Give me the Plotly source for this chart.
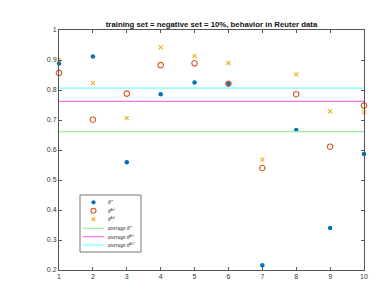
import plotly.graph_objects as go

x_vals = [1, 2, 3, 4, 5, 6, 7, 8, 9, 10]
theta_hat = [0.888, 0.912, 0.559, 0.786, 0.825, 0.821, 0.216, 0.667, 0.340, 0.587]
theta_L1 = [0.857, 0.701, 0.788, 0.883, 0.889, 0.821, 0.540, 0.786, 0.611, 0.748]
theta_L2 = [0.901, 0.823, 0.706, 0.942, 0.913, 0.890, 0.568, 0.852, 0.729, 0.726]
avg_hat = 0.661
avg_L1 = 0.762
avg_L2 = 0.806

x_ticks = [1, 2, 3, 4, 5, 6, 7, 8, 9, 10]
y_ticks = [0.2, 0.3, 0.4, 0.5, 0.6, 0.7, 0.8, 0.9, 1.0]
y_tick_text = ["0.2", "0.3", "0.4", "0.5", "0.6", "0.7", "0.8", "0.9", "1"]

legend_labels = ["<i>θ̂</i>", "<i>θ̂</i><sup>L1</sup>", "<i>θ̂</i><sup>L2</sup>",
                 "<i>average θ̂</i>", "<i>average θ̂<sup>L1</sup></i>", "<i>average θ̂<sup>L2</sup></i>"]

C_BLUE, C_ORANGE, C_YELLOW = "#0072BD", "#D95319", "#EDB120"
C_GREEN, C_MAGENTA, C_CYAN = "#99EE99", "#EE77EE", "#77FFFF"

fig = go.Figure()
fig.add_trace(go.Scatter(x=x_vals, y=theta_hat, mode="markers",
                         marker=dict(symbol="circle", size=4.5, color=C_BLUE), cliponaxis=False))
fig.add_trace(go.Scatter(x=x_vals, y=theta_L1, mode="markers",
                         marker=dict(symbol="circle-open", size=5.5, color=C_ORANGE, line=dict(width=1.1)), cliponaxis=False))
fig.add_trace(go.Scatter(x=x_vals, y=theta_L2, mode="markers",
                         marker=dict(symbol="x-thin-open", size=4, color=C_YELLOW, line=dict(width=1.1, color=C_YELLOW)), cliponaxis=False))
fig.add_trace(go.Scatter(x=[x_vals[0], x_vals[-1]], y=[avg_hat, avg_hat], mode="lines",
                         line=dict(color=C_GREEN, width=1.2)))
fig.add_trace(go.Scatter(x=[x_vals[0], x_vals[-1]], y=[avg_L1, avg_L1], mode="lines",
                         line=dict(color=C_MAGENTA, width=1.2)))
fig.add_trace(go.Scatter(x=[x_vals[0], x_vals[-1]], y=[avg_L2, avg_L2], mode="lines",
                         line=dict(color=C_CYAN, width=1.2)))

axis_common = dict(showline=True, linecolor="#555555", linewidth=1, mirror="ticks",
                   ticks="inside", ticklen=3, tickcolor="#555555", showgrid=False, zeroline=False,
                   tickfont=dict(size=7, color="#333333", family="Liberation Sans, Arial, sans-serif"))
fig.update_xaxes(range=[1, 10], tickvals=x_ticks, **axis_common)
fig.update_yaxes(range=[0.2, 1], tickvals=y_ticks, ticktext=y_tick_text, **axis_common)

# manual legend (MATLAB style box)
L, T, PW, PH = 51, 22, 305, 240
def px(xp):
    return (xp - L) / PW
def py(yp):
    return (T + PH - yp) / PH

shapes = [dict(type="rect", xref="paper", yref="paper", x0=px(72), x1=px(133), y0=py(244), y1=py(187),
               line=dict(color="#777777", width=1), fillcolor="white", layer="above")]
annotations = []
row_y = [194.3, 202.7, 211.3, 220.3, 228.7, 237]
mx = 85.5
shapes.append(dict(type="circle", xref="paper", yref="paper", xsizemode="pixel", ysizemode="pixel",
                   xanchor=px(mx), yanchor=py(row_y[0]), x0=-2.1, x1=2.1, y0=-2.1, y1=2.1,
                   fillcolor=C_BLUE, line=dict(width=0), layer="above"))
shapes.append(dict(type="circle", xref="paper", yref="paper", xsizemode="pixel", ysizemode="pixel",
                   xanchor=px(mx), yanchor=py(row_y[1]), x0=-2.5, x1=2.5, y0=-2.5, y1=2.5,
                   fillcolor="rgba(0,0,0,0)", line=dict(color=C_ORANGE, width=1.1), layer="above"))
shapes.append(dict(type="path", xref="paper", yref="paper", xsizemode="pixel", ysizemode="pixel",
                   xanchor=px(mx), yanchor=py(row_y[2]),
                   path="M -1.8,-1.8 L 1.8,1.8 M -1.8,1.8 L 1.8,-1.8", line=dict(color=C_YELLOW, width=1.1), layer="above"))
for c, yy in zip([C_GREEN, C_MAGENTA, C_CYAN], row_y[3:]):
    shapes.append(dict(type="line", xref="paper", yref="paper", x0=px(75), x1=px(96), y0=py(yy), y1=py(yy),
                       line=dict(color=c, width=1.2), layer="above"))
for lab, yy in zip(legend_labels, row_y):
    annotations.append(dict(text=lab, xref="paper", yref="paper", x=px(98), y=py(yy),
                            xanchor="left", yanchor="middle", showarrow=False,
                            font=dict(size=5.5, family="Liberation Serif, serif", color="#222222")))

fig.update_layout(
    width=390, height=293,
    margin=dict(l=51, r=34, t=22, b=31),
    paper_bgcolor="white", plot_bgcolor="white",
    title=dict(text="<b>training set = negative set = 10%, behavior in Reuter data</b>",
               x=0.5, xanchor="center", xref="paper", y=1 - 16 / 293, yanchor="middle",
               font=dict(size=7.8, color="#111111", family="Liberation Sans, Arial, sans-serif")),
    showlegend=False,
    shapes=shapes,
    annotations=annotations,
)

fig.write_html("out.html")
